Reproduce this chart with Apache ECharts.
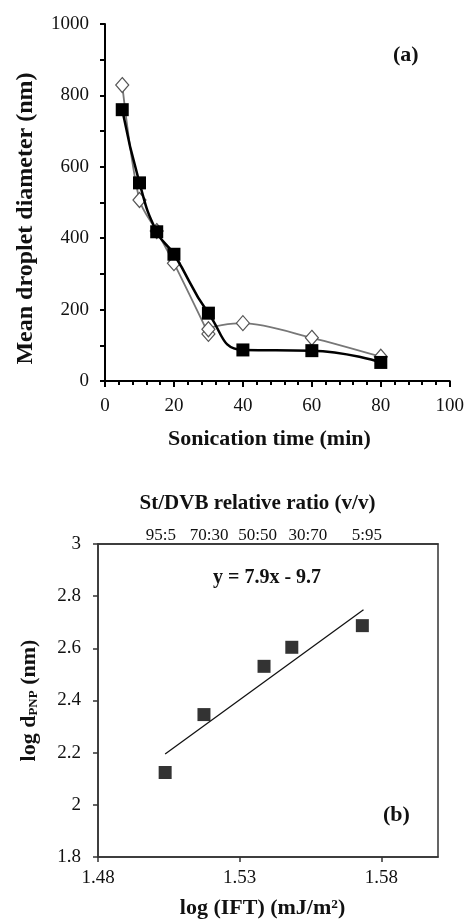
<!DOCTYPE html>
<html>
<head>
<meta charset="utf-8">
<script src="https://cdn.jsdelivr.net/npm/echarts@6/dist/echarts.min.js"></script>
<style>
  html, body { margin: 0; padding: 0; background: #fff; }
  #chart { width: 467px; height: 923px; }
</style>
</head>
<body>
<div id="chart"></div>
<script>
const serif = '"Liberation Serif", "DejaVu Serif", serif'

// (a) droplet size vs sonication time
const sonicTimes = [5, 10, 15, 20, 30, 40, 60, 80]
const diamSquares = [760, 555, 418, 355, 190, 87, 85, 52]
const diamondTimes = [5, 10, 15, 20, 30, 30, 40, 60, 80]
const diamDiamonds = [829, 507, 420, 330, 132, 145, 162, 121, 68]

// (b) log d vs log IFT
const logIFT = [1.5037, 1.5174, 1.5386, 1.5484, 1.5733]
const logD = [2.124, 2.346, 2.531, 2.604, 2.687]
const fitX = [1.5037, 1.5737]
const fitY = [2.195, 2.748]
const iftTicks = [1.48, 1.53, 1.58]
const ratioLabels = ['95:5', '70:30', '50:50', '30:70', '5:95']
const ratioPos = [1.5022, 1.5192, 1.5363, 1.5541, 1.5749]

const zip = (xs, ys) => xs.map((x, i) => [x, ys[i]])

const chart = echarts.init(document.getElementById('chart'))

const tickLabel = { fontFamily: serif, fontSize: 19, color: '#111' }
const axisName = { fontFamily: serif, fontSize: 22, fontWeight: 'bold', color: '#111' }

chart.setOption({
  animation: false,
  grid: [
    { left: 105, right: 15, top: 24, height: 357 },
    { left: 98, right: 29, top: 544, height: 313, show: true, borderColor: '#333', borderWidth: 1.5 }
  ],
  xAxis: [
    {
      gridIndex: 0, type: 'value', min: 0, max: 100, interval: 20,
      name: 'Sonication time (min)', nameLocation: 'middle', nameGap: 47,
      nameTextStyle: Object.assign({}, axisName, { padding: [0, 16, 0, 0] }),
      axisLine: { lineStyle: { color: '#000', width: 2 } },
      axisTick: { inside: false, length: 6, lineStyle: { color: '#000', width: 2 } },
      minorTick: { show: true, splitNumber: 5, length: 4, lineStyle: { color: '#000', width: 2 } },
      axisLabel: Object.assign({ margin: 16 }, tickLabel),
      splitLine: { show: false }
    },
    {
      gridIndex: 1, type: 'value', min: 1.48, max: 1.6, position: 'bottom',
      name: 'log (IFT) (mJ/m²)', nameLocation: 'middle', nameGap: 40,
      nameTextStyle: Object.assign({}, axisName, { padding: [0, 11, 0, 0] }),
      axisLine: { lineStyle: { color: '#333', width: 1.5 } },
      axisTick: { customValues: iftTicks, length: 5, lineStyle: { color: '#333', width: 1.5 } },
      axisLabel: Object.assign({ margin: 12, customValues: iftTicks }, tickLabel),
      splitLine: { show: false }
    },
    {
      gridIndex: 1, type: 'value', min: 1.48, max: 1.6, position: 'top',
      name: 'St/DVB relative ratio (v/v)', nameLocation: 'middle', nameGap: 30,
      nameTextStyle: Object.assign({}, axisName, { fontSize: 21, padding: [0, 21, 0, 0] }),
      axisLine: { lineStyle: { color: '#333', width: 1.5 } },
      axisTick: { show: false },
      axisLabel: {
        customValues: ratioPos, margin: 0,
        fontFamily: serif, fontSize: 17, color: '#111',
        formatter: v => {
          let k = 0
          ratioPos.forEach((p, i) => { if (Math.abs(p - v) < Math.abs(ratioPos[k] - v)) k = i })
          return ratioLabels[k]
        }
      },
      splitLine: { show: false }
    }
  ],
  yAxis: [
    {
      gridIndex: 0, type: 'value', min: 0, max: 1000, interval: 200,
      name: 'Mean droplet diameter (nm)', nameLocation: 'middle', nameGap: 67,
      nameTextStyle: Object.assign({}, axisName, { fontSize: 24, padding: [0, 32, 0, 0] }),
      axisLine: { show: true, lineStyle: { color: '#000', width: 2 } },
      axisTick: { show: true, length: 5, lineStyle: { color: '#000', width: 2 } },
      minorTick: { show: true, splitNumber: 2, length: 5, lineStyle: { color: '#000', width: 2 } },
      axisLabel: Object.assign({ margin: 16, formatter: v => String(v) }, tickLabel),
      splitLine: { show: false }
    },
    {
      gridIndex: 1, type: 'value', min: 1.8, max: 3, interval: 0.2,
      name: '{n|log d}{s|PNP}{n| (nm)}', nameLocation: 'middle', nameGap: 58,
      nameTextStyle: {
        rich: {
          n: { fontFamily: serif, fontSize: 22, fontWeight: 'bold', color: '#111', verticalAlign: 'bottom', lineHeight: 26 },
          s: { fontFamily: serif, fontSize: 13, fontWeight: 'bold', color: '#111', verticalAlign: 'bottom', lineHeight: 20 }
        }
      },
      axisLine: { show: true, lineStyle: { color: '#333', width: 1.5 } },
      axisTick: { show: true, length: 5, lineStyle: { color: '#333', width: 1.5 } },
      axisLabel: Object.assign({ margin: 17 }, tickLabel),
      splitLine: { show: false }
    }
  ],
  graphic: [
    { type: 'text', left: 393, top: 44, style: { text: '(a)', font: 'bold 22px ' + serif, fill: '#111' } },
    { type: 'text', left: 383, top: 804, style: { text: '(b)', font: 'bold 22px ' + serif, fill: '#111' } },
    { type: 'text', left: 213, top: 568, style: { text: 'y = 7.9x - 9.7', font: 'bold 20px ' + serif, fill: '#111' } }
  ],
  series: [
    {
      type: 'line', xAxisIndex: 0, yAxisIndex: 0,
      data: zip(diamondTimes, diamDiamonds),
      smooth: 0.3,
      symbol: 'diamond', symbolSize: [13, 15],
      lineStyle: { color: '#777', width: 1.8 },
      itemStyle: { color: '#fff', borderColor: '#555', borderWidth: 1.2 },
      z: 2
    },
    {
      type: 'line', xAxisIndex: 0, yAxisIndex: 0,
      data: zip(sonicTimes, diamSquares),
      smooth: true,
      symbol: 'rect', symbolSize: 13,
      lineStyle: { color: '#000', width: 2.5 },
      itemStyle: { color: '#000' },
      z: 3
    },
    {
      type: 'line', xAxisIndex: 1, yAxisIndex: 1,
      data: zip(fitX, fitY),
      showSymbol: false, symbol: 'none',
      lineStyle: { color: '#111', width: 1.3 }
    },
    {
      type: 'scatter', xAxisIndex: 1, yAxisIndex: 1,
      data: zip(logIFT, logD),
      symbol: 'rect', symbolSize: 13,
      itemStyle: { color: '#000' }
    }
  ]
})
</script>
</body>
</html>
